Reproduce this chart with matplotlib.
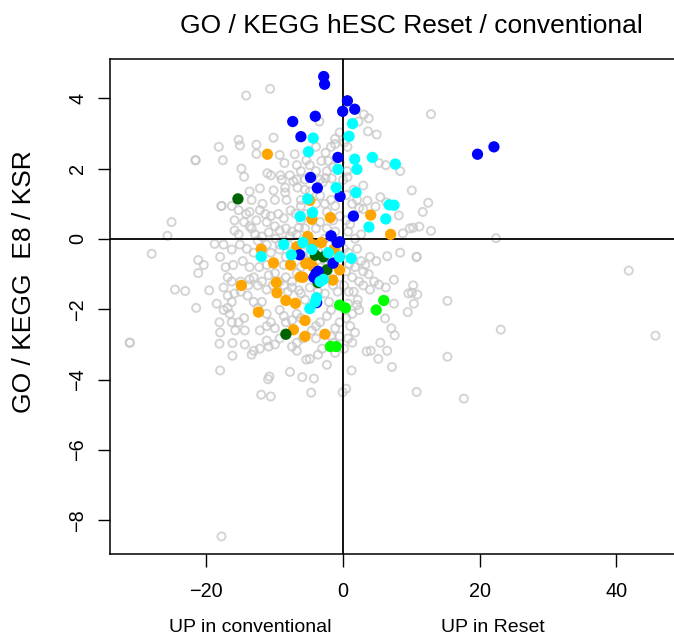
import numpy as np
import matplotlib
matplotlib.use("Agg")
import matplotlib.pyplot as plt

plt.rcParams['font.family'] = ['Liberation Sans', 'DejaVu Sans']

# grey background terms (x = Reset / conventional score, y = E8 / KSR score)
grey_points = [
    (-10.6, 4.27), (-14.1, 4.08), (12.9, 3.55), (-18.1, 2.62), (-15.2, 2.82), (-15.0, 2.66),
    (-12.6, 2.68), (-12.6, 2.42), (-21.5, 2.24), (-21.5, 2.24), (-17.5, 2.24), (-10.1, 2.88),
    (-14.8, 2.0), (-14.4, 1.77), (-17.7, 0.94), (-17.7, 0.94), (-25.0, 0.48), (-25.6, 0.09),
    (-27.9, -0.42), (-18.7, -0.14), (-21.1, -0.6), (-21.1, -0.97), (-20.3, -0.74),
    (-24.5, -1.44), (-23.0, -1.48), (-19.5, -1.46), (-21.4, -1.96), (-31.1, -2.95),
    (-31.1, -2.95), (-17.9, -2.66), (-18.0, -2.98), (-16.1, -2.96), (-17.9, -3.74),
    (-16.1, -3.32), (-11.9, -4.43), (-10.5, -4.48), (-10.7, -3.91), (-10.9, -3.99),
    (-7.7, -3.78), (-5.9, -3.93), (-4.2, -3.97), (-4.6, -4.37), (-17.7, -8.46),
    (0.0, -4.36), (0.5, -4.26), (1.3, -3.74), (3.5, -3.2), (4.1, -3.18), (5.2, -3.41),
    (5.5, -2.95), (6.5, -3.18), (7.2, -3.64), (7.1, -2.54), (7.6, -2.74), (6.2, -2.26),
    (5.3, -1.30), (6.3, -1.38), (7.5, -1.16), (9.6, -1.55), (10.1, -1.53), (10.9, -1.58),
    (10.4, -1.84), (9.5, -2.08), (10.8, -0.51), (10.8, -0.51), (10.3, -1.32), (7.5, -1.84),
    (8.4, -0.39), (6.5, -0.49), (15.3, -1.76), (15.3, -3.35), (17.7, -4.54), (10.8, -4.35),
    (22.4, 0.02), (23.1, -2.58), (41.8, -0.90), (45.7, -2.75), (8.4, 1.93), (10.1, 1.38),
    (12.5, 1.03), (11.7, 0.77), (8.2, 0.67), (9.8, 0.30), (10.3, 0.32), (11.2, 0.35),
    (12.9, 0.23), (8.8, 0.16), (5.5, 1.19), (6.4, 1.04), (4.97, 2.97), (3.7, 3.06),
    (3.8, 3.43), (3.1, 3.54), (2.3, 3.34), (6.3, 2.10), (5.3, 2.16), (3.0, 1.52),
    (3.0, 0.85), (4.8, 0.92), (3.6, 1.09), (0.57, 1.25), (1.6, 1.4), (0.7, 1.76),
    (0.06, 1.68), (0.63, 1.93), (0.2, 2.74), (0.7, 2.62), (-2.3, 1.93), (-1.6, 1.72),
    (-2.9, 1.61), (-2.5, 1.73), (-2.1, 2.22), (-3.4, 3.34), (-1.1, 2.70), (-3.1, 2.22),
    (-5.3, 2.24), (-7.0, 2.41), (-9.2, 2.39), (-8.5, 2.16), (-11.0, 1.87), (-10.5, 1.81),
    (-9.1, 1.81), (-8.9, 1.69), (-13.6, 1.35), (-12.1, 1.44), (-10.1, 1.38), (-8.4, 1.32),
    (-13.3, 1.11), (-9.9, 1.11), (-8.2, 1.11), (-7.2, 1.64), (-6.6, 1.46), (-6.1, 1.11),
    (-6.1, 0.94), (-16.2, 0.94), (-15.8, 0.53), (-14.1, 0.71), (-14.4, 0.48), (-12.1, 0.82),
    (-11.3, 0.71), (-15.8, 0.24), (-15.2, 0.13), (-13.6, 0.36), (-13.3, 0.30), (-12.6, 0.53),
    (-11.1, 0.48), (-10.5, 0.65), (-9.4, 0.71), (-8.6, 0.59), (-7.6, 0.81), (-6.9, 0.72),
    (-12.8, 0.13), (-11.8, 0.07), (-10.8, 0.19), (-9.9, 0.36), (-9.2, 0.24), (-8.3, 0.30),
    (-7.4, 0.21), (-6.4, 0.32), (-9.8, 0.01), (-8.6, -0.05), (-7.7, 0.07), (-6.7, 0.13),
    (-5.5, 0.30), (-3.9, 0.30), (-2.3, 0.30), (-1.1, 0.21), (0.8, 0.21), (1.8, 0.01),
    (2.7, 0.13), (-17.4, -0.16), (-16.2, -0.30), (-15.0, -0.16), (-14.0, -0.28),
    (-13.0, -0.39), (-17.9, -0.51), (-17.1, -0.80), (-16.0, -0.74), (-14.6, -0.63),
    (-13.6, -0.80), (-12.2, -0.80), (-11.1, -0.74), (-10.5, -0.39), (-9.2, -0.30),
    (-8.3, -0.51), (-5.8, -0.49), (-5.2, -0.63), (-3.6, -0.34), (-2.6, -0.63), (0.2, -0.28),
    (0.8, -0.39), (2.1, -0.28), (2.7, -0.63), (3.3, -0.74), (4.0, -0.51), (4.9, -0.63),
    (3.0, -0.92), (3.8, -1.0), (1.4, -1.09), (2.4, -1.21), (0.2, -1.32), (0.9, -1.50),
    (1.6, -1.50), (2.2, -1.73), (3.0, -1.32), (4.0, -1.44), (4.6, -1.21), (0.8, -1.84),
    (2.1, -1.88), (2.4, -2.02), (1.4, -2.13), (0.5, -2.25), (-0.44, -2.37), (1.1, -2.48),
    (1.8, -2.66), (0.8, -2.83), (1.4, -2.95), (-1.4, -2.95), (-0.44, -2.77), (0.2, -3.12),
    (-1.1, -3.24), (-2.3, -3.58), (-3.6, -3.29), (-3.0, -3.12), (-4.8, -3.41), (-5.3, -3.43),
    (-6.7, -3.18), (-7.4, -3.06), (-6.7, -2.95), (-5.8, -2.83), (-9.2, -2.83), (-9.9, -3.0),
    (-11.1, -2.89), (-10.8, -3.06), (-12.1, -3.12), (-13.0, -3.18), (-13.3, -3.29),
    (-14.3, -3.0), (-14.3, -2.60), (-14.4, -2.25), (-15.2, -2.37), (-15.7, -2.6),
    (-16.2, -2.37), (-16.5, -2.13), (-16.2, -1.79), (-16.8, -1.96), (-15.8, -1.55),
    (-14.9, -1.50), (-13.9, -1.61), (-13.8, -1.32), (-13.0, -1.09), (-12.4, -1.32),
    (-13.0, -1.79), (-12.4, -1.96), (-11.8, -1.79), (-11.1, -2.13), (-11.1, -1.44),
    (-10.2, -1.32), (-8.6, -1.32), (-8.0, -1.50), (-9.2, -2.02), (-8.6, -2.19),
    (-10.5, -2.37), (-9.9, -2.54), (-11.1, -2.48), (-12.1, -2.60), (-8.3, -2.37),
    (-7.4, -2.31), (-6.1, -2.25), (-6.7, -2.13), (-6.1, -1.55), (-5.5, -1.73), (-7.4, -1.38),
    (-6.4, -1.46), (-4.8, -1.38), (-3.6, -1.50), (-2.6, -1.55), (-2.0, -1.79), (-1.7, -2.02),
    (-2.3, -2.19), (-3.3, -2.37), (-3.9, -2.48), (-4.5, -2.60), (-3.9, -2.83), (-1.1, -2.54),
    (-1.7, -2.77), (-1.4, -1.32), (-0.75, -1.50), (-0.44, -1.09), (0.5, -0.92), (0.94, -0.72),
    (1.8, -0.80), (-6.1, -0.80), (-6.7, -0.97), (-7.4, -1.21), (-8.3, -1.09), (-9.2, -1.21),
    (-9.9, -0.97), (-10.8, -1.03), (-11.8, -1.21), (-13.6, -1.15), (-14.9, -1.21),
    (-16.2, -1.21), (-16.8, -1.09), (-17.4, -1.38), (-16.8, -1.61), (-18.4, -1.84),
    (-17.4, -2.02), (-18.0, -2.37), (-5.5, -0.16), (-4.8, -0.05), (-3.9, -0.22), (-2.6, 0.01),
    (-2.0, -0.16), (-6.1, 0.53), (-5.3, 0.71), (-3.3, 0.48), (-2.3, 0.77), (-1.4, 0.53),
    (-0.44, 0.65), (0.5, 0.53), (1.1, 0.42), (1.4, 1.0), (2.4, 0.88), (2.1, 1.11),
    (-1.7, 1.11), (-1.1, 0.94), (-3.3, 1.23), (-2.6, 1.0), (-3.9, 1.0), (-5.5, 1.40),
    (-4.8, 1.35), (-3.3, 1.69), (-3.9, 1.93), (-6.1, 1.93), (-6.7, 2.10), (-4.8, 2.10),
    (-5.5, 1.69), (-1.4, 2.04), (-0.44, 2.16), (-2.5, 2.45), (-1.7, 2.62), (-0.44, 3.03),
    (-1.1, 2.85), (-3.9, 2.62), (-6.7, 1.69), (-7.7, 1.81), (-8.4, 1.46), (-11.7, 1.0),
    (-15.2, 0.82), (-13.6, 0.77), (-4.8, -0.45), (-3.1, -0.80), (-1.1, -0.39), (-1.7, -0.63),
    (-6.7, -0.39), (-8.6, -0.74), (-11.1, -0.16), (-12.4, -0.05), (-9.2, -0.16), (-8.0, -0.16),
]

blue_x = [-2.77, -2.64, 0.69, 0.0, 1.76, -7.3, -4.0, -6.1, -0.7, 19.7, 22.1, -4.7, -3.7,
          -0.38, 1.57, -1.7, -0.44, -6.3, -1.4, -3.6, -4.2, -3.8, -0.8, -3.9]
blue_y = [4.62, 4.40, 3.93, 3.63, 3.69, 3.34, 3.49, 2.91, 2.32, 2.41, 2.62, 1.75, 1.45,
          1.21, 0.65, 0.09, -0.08, -0.45, -0.69, -0.92, -1.09, -1.81, -0.1, -0.98]

cyan_x = [1.45, 0.94, -4.3, -5.0, 1.76, 4.34, 7.7, -0.7, 2.08, -0.94, 1.95, -5.1, 6.8, 7.5,
          -4.4, -6.2, 6.3, 3.84, -8.6, -5.8, -4.5, -2.1, -11.9, -7.5, 1.26, -0.44, -3.3,
          -2.8, -3.8, -4.0, -4.8]
cyan_y = [3.28, 2.92, 2.87, 2.48, 2.27, 2.32, 2.13, 1.98, 1.98, 1.46, 1.32, 1.14, 0.97, 0.96,
          0.75, 0.64, 0.57, 0.34, -0.16, -0.10, -0.30, -0.39, -0.50, -0.45, -0.55, -0.51,
          -1.21, -1.15, -1.67, -1.79, -1.98]

orange_x = [-11.0, -4.8, -1.8, 4.1, -4.5, 7.0, -5.1, -3.1, -4.4, -6.7, -1.26, -11.9, -10.1,
            -7.6, -4.8, -4.4, -0.44, -5.8, -9.7, -1.45, -14.8, -9.6, -8.3, -6.9, -12.3,
            -5.5, -7.2, -5.5, -2.6, -6.2, -5.4]
orange_y = [2.41, 1.10, 0.61, 0.68, 0.56, 0.13, 0.07, -0.10, -0.16, -0.22, -0.29, -0.29,
            -0.68, -0.74, -0.68, -0.77, -0.88, -1.09, -1.24, -1.17, -1.32, -1.53, -1.75,
            -1.83, -2.08, -2.32, -2.58, -2.77, -2.71, -1.08, -0.70]

darkgreen_x = [-15.3, -2.8, -2.3, -3.6, -3.0, -8.3, -4.0]
darkgreen_y = [1.14, -0.51, -0.88, -1.24, -1.09, -2.71, -0.46]

green_x = [-0.44, 0.38, 6.0, 4.9, -1.8, -0.94]
green_y = [-1.88, -1.96, -1.75, -2.02, -3.06, -3.06]

x_ticks = [-20, 0, 20, 40]
y_ticks = [-8, -6, -4, -2, 0, 2, 4]

W, H = 674, 639
fig = plt.figure(figsize=(W / 100, H / 100), dpi=100)
ax = fig.add_axes([109.6 / W, 1 - 554 / H, (676.7 - 109.6) / W, (554 - 59.3) / H])

gp = np.array(grey_points)
ax.scatter(gp[:, 0], gp[:, 1], s=34, facecolors='none', edgecolors='#c6c6c6',
           linewidths=1.4, alpha=0.75, zorder=2)
ax.axhline(0, color='black', lw=1.3, zorder=3)
ax.axvline(0, color='black', lw=1.3, zorder=3)

for xs, ys, col in [(orange_x, orange_y, '#FFA500'), (darkgreen_x, darkgreen_y, '#006400'),
                    (blue_x, blue_y, '#0000FF'), (cyan_x, cyan_y, '#00FFFF'),
                    (green_x, green_y, '#00FF00')]:
    ax.scatter(xs, ys, s=66, color=col, edgecolors='none', zorder=4)

ax.set_xlim(-34.05, 48.8)
ax.set_ylim(-8.96, 5.11)
ax.set_xticks(x_ticks)
ax.set_yticks(y_ticks)
ax.set_xticklabels([str(t).replace('-', '\u2212') for t in x_ticks])
ax.set_yticklabels([str(t).replace('-', '\u2212') for t in y_ticks], rotation=90, va='center')
ax.tick_params(direction='out', length=9, width=1.0, labelsize=14.3)
ax.tick_params(axis='x', pad=11)
ax.tick_params(axis='y', pad=7)
for s in ax.spines.values():
    s.set_linewidth(1.1)

fig.text(411 / W, 1 - 26 / H, 'GO / KEGG hESC Reset / conventional', fontsize=19,
         ha='center', va='center')
fig.text(250 / W, 1 - 627 / H, 'UP in conventional', fontsize=14, ha='center', va='center')
fig.text(493 / W, 1 - 627 / H, 'UP in Reset', fontsize=14, ha='center', va='center')
fig.text(23.6 / W, 1 - 282 / H, 'GO / KEGG  E8 / KSR', fontsize=19, rotation=90,
         ha='center', va='center')

fig.savefig('out.png', dpi=100)
